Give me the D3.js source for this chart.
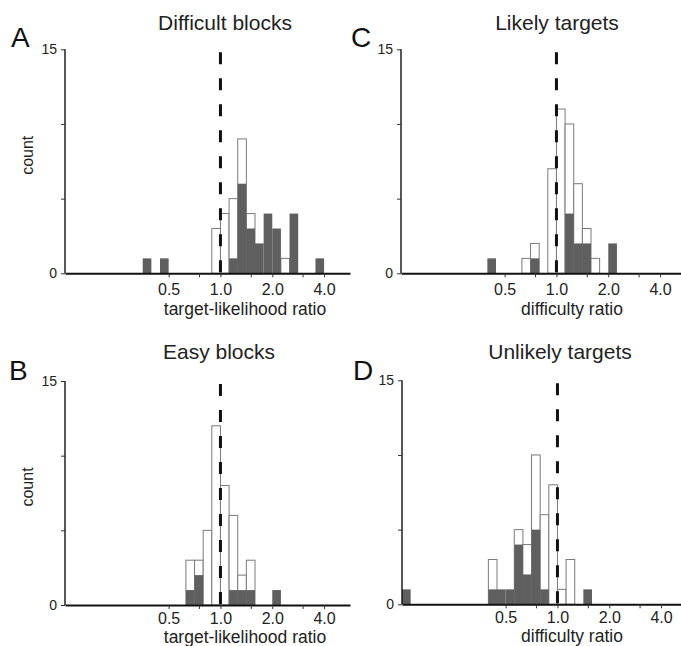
<!DOCTYPE html>
<html>
<head>
<meta charset="utf-8">
<script src="https://cdn.jsdelivr.net/npm/d3@7"></script>
<style>
  body { margin: 0; background: #fff; }
  svg { display: block; font-family: "Liberation Sans", Arial, Helvetica, sans-serif; }
</style>
</head>
<body>
<svg id="chart" width="681" height="646"></svg>
<script>
// bins are 1/6 octave wide, index k -> [2^(k/6), 2^((k+1)/6)]
const binA = [-9, -7, -1, 0, 1, 2, 3, 4, 5, 6, 7, 8, 11];
const allA = [1, 1, 3, 4, 5, 9, 4, 2, 4, 3, 1, 4, 1];
const subA = [1, 1, 0, 0, 1, 6, 3, 2, 4, 3, 0, 4, 1];

const binB = [-4, -3, -2, -1, 0, 1, 2, 3, 6];
const allB = [3, 3, 5, 12, 8, 6, 2, 3, 1];
const subB = [1, 2, 0, 0, 0, 1, 1, 1, 1];

const binC = [-8, -4, -3, -1, 0, 1, 2, 3, 4, 6];
const allC = [1, 1, 2, 7, 11, 10, 6, 3, 1, 2];
const subC = [1, 0, 1, 0, 0, 4, 2, 2, 0, 2];

const binD = [-18, -8, -7, -6, -5, -4, -3, -2, -1, 0, 1, 3];
const allD = [1, 3, 1, 1, 5, 4, 10, 6, 8, 1, 3, 1];
const subD = [1, 1, 1, 1, 4, 2, 5, 1, 0, 0, 0, 1];

const xTicks = [0.5, 0.75, 1, 1.5, 2, 3, 4];
const xTickLabels = [0.5, 1, 2, 4];
const yTicks = [0, 5, 10, 15];

const svg = d3.select("#chart");

const panels = [
  {letter: "A", title: "Difficult blocks", xlabel: "target-likelihood ratio", bins: binA, all: allA, sub: subA,
   x0: 65, y0: 273.3, titleX: 225, titleY: 30, letterX: 11, letterY: 47, tickDy: 22, labelDy: 42, labelX: 245},
  {letter: "B", title: "Easy blocks", xlabel: "target-likelihood ratio", bins: binB, all: allB, sub: subB,
   x0: 65, y0: 605, titleX: 219, titleY: 359, letterX: 9, letterY: 380, tickDy: 19, labelDy: 38, labelX: 245},
  {letter: "C", title: "Likely targets", xlabel: "difficulty ratio", bins: binC, all: allC, sub: subC,
   x0: 401, y0: 273.3, titleX: 557, titleY: 30, letterX: 351, letterY: 47, tickDy: 22, labelDy: 42, labelX: 572},
  {letter: "D", title: "Unlikely targets", xlabel: "difficulty ratio", bins: binD, all: allD, sub: subD,
   x0: 402, y0: 604.3, titleX: 560, titleY: 359, letterX: 353, letterY: 380, tickDy: 19, labelDy: 38, labelX: 572}
];

panels.forEach(p => {
  const x = d3.scaleLog().base(2).domain([1 / 8, Math.pow(2, 2.5)]).range([p.x0, p.x0 + 285]);
  const y = d3.scaleLinear().domain([0, 15]).range([p.y0, p.y0 - 224]);
  const g = svg.append("g");

  const rows = p.bins.map((k, i) => ({k: k, all: p.all[i], sub: p.sub[i]}));
  const lo = d => x(Math.pow(2, d.k / 6));
  const hi = d => x(Math.pow(2, (d.k + 1) / 6));

  // total counts: open bars
  g.selectAll("rect.all").data(rows.filter(d => d.all > d.sub)).join("rect")
    .attr("x", lo).attr("width", d => hi(d) - lo(d))
    .attr("y", d => y(d.all)).attr("height", d => y(0) - y(d.all))
    .attr("fill", "#fff").attr("stroke", "#7a7a7a").attr("stroke-width", 1);

  // subset counts: filled bars
  g.selectAll("rect.sub").data(rows.filter(d => d.sub > 0)).join("rect")
    .attr("x", lo).attr("width", d => hi(d) - lo(d))
    .attr("y", d => y(d.sub)).attr("height", d => y(0) - y(d.sub))
    .attr("fill", "#5f5f5f");

  // y axis
  const ya = g.append("g").attr("transform", `translate(${p.x0},0)`)
    .call(d3.axisLeft(y).tickValues(yTicks).tickSize(4).tickPadding(4)
      .tickFormat(d => (d === 0 || d === 15) ? d : ""));
  ya.select(".domain").attr("stroke", "#111").attr("stroke-width", 1.4).attr("d", `M0,${y(0)}V${y(15)}`);
  ya.selectAll(".tick line").attr("stroke", "#333");
  ya.selectAll("text").attr("font-size", 14).attr("fill", "#222").attr("font-family", null);

  // x axis
  const xa = g.append("g").attr("transform", `translate(0,${p.y0})`)
    .call(d3.axisBottom(x).tickValues(xTicks).tickSize(4).tickSizeOuter(0)
      .tickFormat(d => xTickLabels.includes(d) ? d.toFixed(1) : ""));
  xa.select(".domain").attr("stroke", "#111").attr("stroke-width", 2);
  xa.selectAll(".tick line").attr("stroke", "#333");
  xa.selectAll("text").attr("font-size", 16).attr("fill", "#222").attr("font-family", null)
    .attr("y", p.tickDy).attr("dy", null);

  // reference line at ratio 1
  g.append("line")
    .attr("x1", x(1)).attr("x2", x(1))
    .attr("y1", y(15) + 3).attr("y2", y(0))
    .attr("stroke", "#111").attr("stroke-width", 3).attr("stroke-dasharray", "12,14");

  // texts
  g.append("text").attr("x", p.titleX).attr("y", p.titleY).attr("text-anchor", "middle")
    .attr("font-size", 21).attr("fill", "#222").text(p.title);
  g.append("text").attr("x", p.letterX).attr("y", p.letterY)
    .attr("font-size", 28).attr("fill", "#111").text(p.letter);
  g.append("text").attr("x", p.labelX).attr("y", p.y0 + p.labelDy).attr("text-anchor", "middle")
    .attr("font-size", 17.5).attr("fill", "#222").text(p.xlabel);
  if (p.x0 < 100) {
    g.append("text")
      .attr("transform", `translate(33,${(y(0) + y(15)) / 2 - 6}) rotate(-90)`)
      .attr("text-anchor", "middle").attr("font-size", 16).attr("fill", "#222").text("count");
  }
});
</script>
</body>
</html>
